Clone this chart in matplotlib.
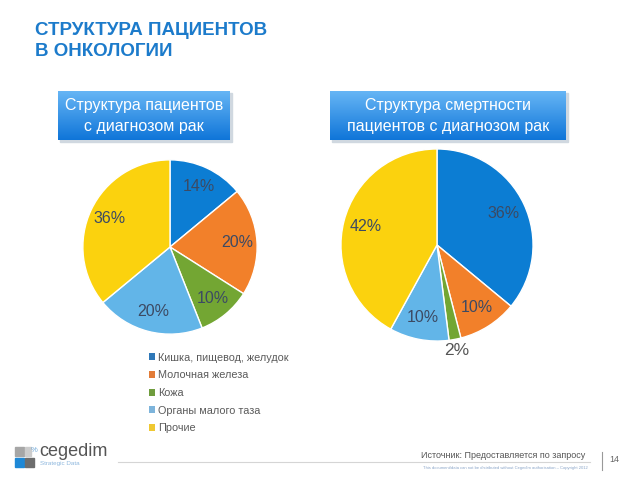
import numpy as np
import matplotlib
matplotlib.use("Agg")
import matplotlib.pyplot as plt
from matplotlib.patches import Rectangle, Patch

plt.rcParams["font.family"] = ["Liberation Sans", "DejaVu Sans"]

# data
categories = ["Кишка, пищевод, желудок", "Молочная железа", "Кожа",
              "Органы малого таза", "Прочие"]
patients_share = [14, 20, 10, 20, 36]
deaths_share = [36, 10, 2, 10, 42]
colors = ["#0C7DD3", "#F2802A", "#73A633", "#62B5E8", "#FBD20E"]
legend_colors = ["#2F78B8", "#E27C38", "#6F9C3D", "#7DB4DB", "#EFC832"]
title = "СТРУКТУРА ПАЦИЕНТОВ\nВ ОНКОЛОГИИ"
box_titles = ["Структура пациентов\nс диагнозом рак",
              "Структура смертности\nпациентов с диагнозом рак"]

W, H = 640, 480
fig = plt.figure(figsize=(W / 100, H / 100), dpi=100, facecolor="white")

# overlay axes in pixel coordinates
ov = fig.add_axes([0, 0, 1, 1], zorder=0)
ov.set_xlim(0, W)
ov.set_ylim(H, 0)
ov.axis("off")

ov.text(35, 22, title, color="#1C7BCB", fontsize=13.5, fontweight="bold",
        va="top", ha="left", linespacing=1.3)

# gradient header boxes
grad = np.linspace(0, 1, 64).reshape(-1, 1)
top = np.array([0.40, 0.71, 0.96])
bot = np.array([0.06, 0.46, 0.85])
img = top + (bot - top) * grad[..., None]
for (x0, x1), txt in zip([(58, 230), (330, 566)], box_titles):
    ov.add_patch(Rectangle((x0 + 2, 93), x1 - x0, 49, color="#d0d8e0", zorder=1))
    ov.imshow(img, extent=(x0, x1, 140, 91), aspect="auto", zorder=2)
    ov.text((x0 + x1) / 2, 116, txt, color="white", fontsize=11.5,
            ha="center", va="center", zorder=3, linespacing=1.45)

label_color = "#3C4A63"


def draw_pie(rect, values):
    ax = fig.add_axes(rect, zorder=2)
    wedges, texts, autotexts = ax.pie(
        values, colors=colors, startangle=90, counterclock=False,
        autopct="%d%%", pctdistance=0.77,
        wedgeprops=dict(edgecolor="white", linewidth=1),
        textprops=dict(color=label_color, fontsize=11.5))
    ax.set_xlim(-1.01, 1.01)
    ax.set_ylim(-1.01, 1.01)
    ax.set_aspect("equal")
    return ax, wedges, autotexts


# left pie: centre (170,247), r 87
r1 = 88
ax1, w1, t1 = draw_pie([(170 - r1) / W, (H - 247 - r1) / H, 2 * r1 / W, 2 * r1 / H],
                       patients_share)
# right pie: centre (437,245), r 96
r2 = 97
ax2, w2, t2 = draw_pie([(437 - r2) / W, (H - 245 - r2) / H, 2 * r2 / W, 2 * r2 / H],
                       deaths_share)
# small slice label sits outside
ang = np.deg2rad(90 - 360 * (sum(deaths_share[:2]) + deaths_share[2] / 2) / 100)
t2[2].set_position((1.12 * np.cos(ang), 1.12 * np.sin(ang)))
t2[2].set_color("#555555")
t2[2].set_fontsize(12.5)
for a in (ax1, ax2):
    for t in a.texts:
        t.set_clip_on(False)

# legend
handles = [Patch(facecolor=c, edgecolor="none") for c in legend_colors]
fig.legend(handles, categories, loc="upper left",
           bbox_to_anchor=(139 / W, 1 - 343 / H), frameon=False,
           fontsize=7.8, labelcolor="#5a5a5a", handlelength=0.6,
           handleheight=0.6, handletextpad=0.25, labelspacing=0.7)

# footer
ov.add_patch(Rectangle((15, 447), 8.5, 8.5, color="#a6a6a6"))
ov.add_patch(Rectangle((25, 447), 6, 8.5, color="#cccccc"))
ov.add_patch(Rectangle((15, 458), 8.5, 9, color="#1E88D6"))
ov.add_patch(Rectangle((25, 458), 8.5, 9, color="#6d6d6d"))
ov.text(31, 450, "%", color="#6fa8d8", fontsize=5.5, va="center")
ov.text(39, 451, "cegedim", color="#555555", fontsize=13, va="center")
ov.text(40, 463, "Strategic Data", color="#8fb8de", fontsize=4.5, va="center")

ov.plot([118, 590], [462, 462], color="#d5d5d5", lw=0.8)
ov.text(585, 456, "Источник: Предоставляется по запросу", color="#555555",
        fontsize=6.5, ha="right", va="center")
ov.text(588, 467.5,
        "This document/data can not be distributed without Cegedim authorisation \u2013 Copyright 2012",
        color="#8aa5c8", fontsize=3, ha="right", va="center")
ov.plot([602, 602], [452, 470], color="#999999", lw=0.8)
ov.text(609, 459, "14", color="#666666", fontsize=6.5, va="center")

fig.savefig("out.png", dpi=100, facecolor="white")
